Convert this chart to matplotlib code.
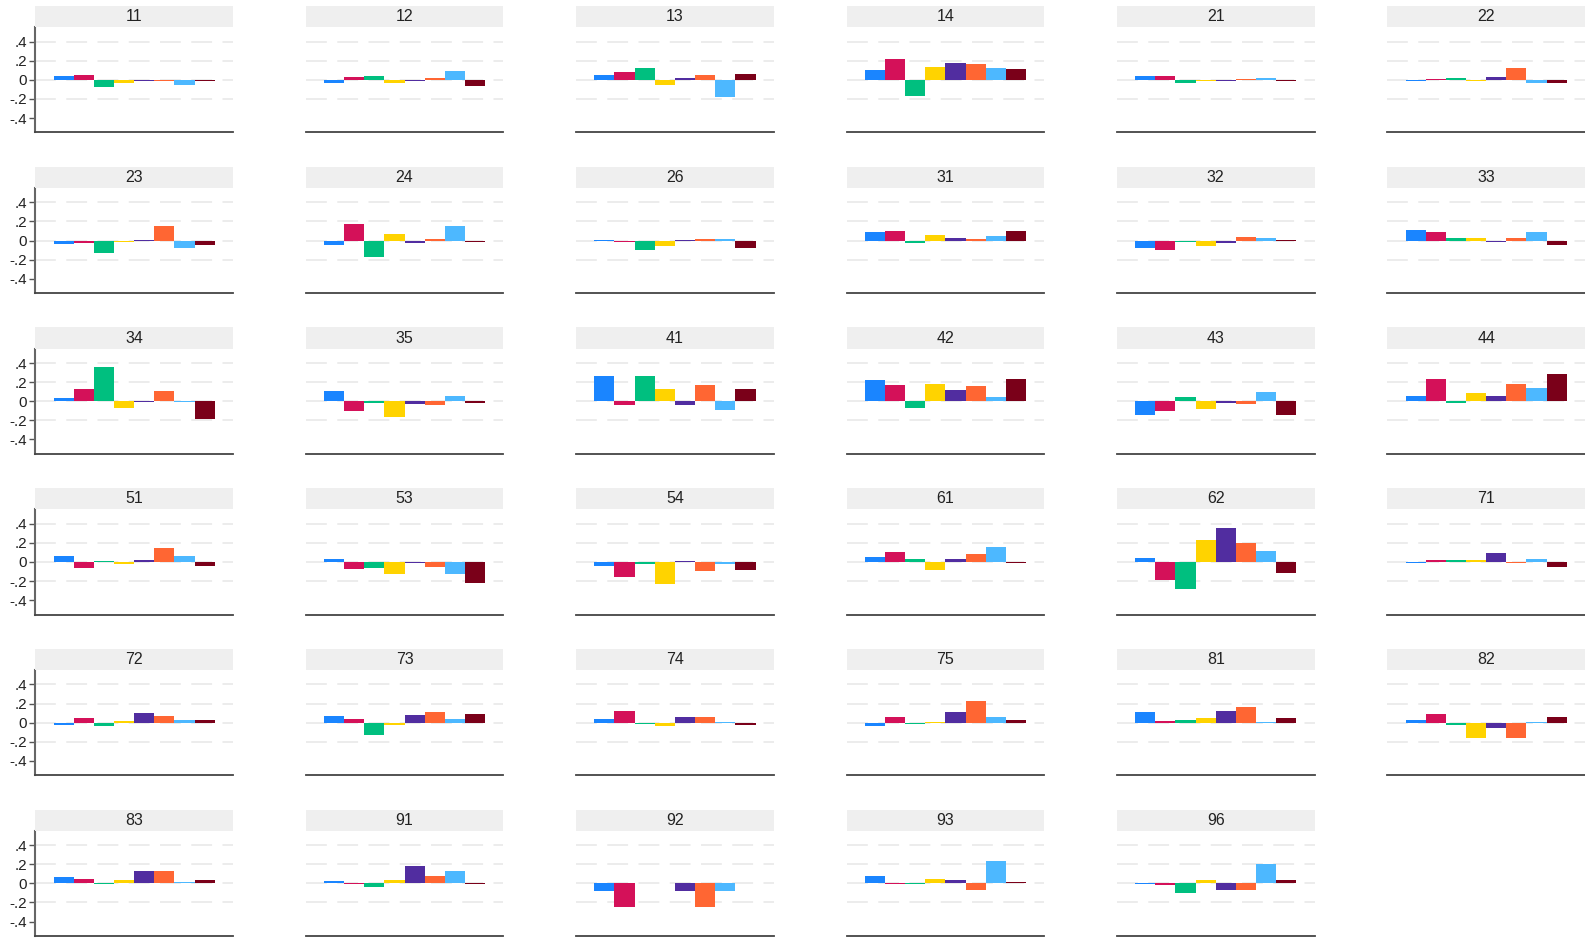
import matplotlib
matplotlib.use("Agg")
import matplotlib.pyplot as plt
import numpy as np

plt.rcParams['font.family'] = ['Liberation Sans', 'DejaVu Sans']
plt.rcParams['lines.scale_dashes'] = False

panels = ["11", "12", "13", "14", "21", "22",
          "23", "24", "26", "31", "32", "33",
          "34", "35", "41", "42", "43", "44",
          "51", "53", "54", "61", "62", "71",
          "72", "73", "74", "75", "81", "82",
          "83", "91", "92", "93", "96"]

grp1 = [0.045, -0.028, 0.049, 0.104, 0.045, -0.014, -0.031, -0.049, 0.010, 0.094, -0.073, 0.115,
        0.031, 0.104, 0.260, 0.219, -0.142, 0.052, 0.066, 0.035, -0.045, 0.056, 0.045, -0.014,
        -0.020, 0.070, 0.040, -0.030, 0.110, 0.030, 0.070, 0.020, -0.080, 0.080, -0.010]
grp2 = [0.055, 0.035, 0.087, 0.215, 0.045, 0.007, -0.024, 0.177, -0.014, 0.100, -0.100, 0.094,
        0.125, -0.104, -0.038, 0.167, -0.104, 0.229, -0.059, -0.069, -0.153, 0.108, -0.184, 0.024,
        0.050, 0.040, 0.120, 0.060, 0.020, 0.090, 0.050, -0.010, -0.250, -0.010, -0.020]
grp3 = [-0.073, 0.045, 0.120, -0.170, -0.028, 0.024, -0.135, -0.167, -0.104, -0.024, -0.010, 0.031,
        0.354, -0.017, 0.260, -0.073, 0.042, -0.015, 0.014, -0.059, -0.024, 0.035, -0.288, 0.024,
        -0.040, -0.130, -0.010, -0.010, 0.030, -0.020, -0.010, -0.040, 0.000, -0.010, -0.100]
grp4 = [-0.038, -0.028, -0.049, 0.139, -0.017, -0.017, -0.010, 0.073, -0.052, 0.059, -0.062, 0.024,
        -0.069, -0.163, 0.125, 0.177, -0.080, 0.083, -0.017, -0.128, -0.226, -0.080, 0.233, 0.024,
        0.020, -0.020, -0.040, 0.010, 0.050, -0.160, 0.030, 0.030, 0.000, 0.050, 0.030]
grp5 = [-0.017, -0.014, 0.017, 0.174, -0.010, 0.031, 0.010, -0.021, 0.010, 0.028, -0.024, -0.012,
        -0.012, -0.028, -0.038, 0.115, -0.020, 0.052, 0.024, -0.014, 0.014, 0.035, 0.358, 0.097,
        0.100, 0.080, 0.060, 0.110, 0.120, -0.060, 0.130, 0.180, -0.080, 0.040, -0.070]
grp6 = [-0.012, 0.024, 0.049, 0.163, 0.005, 0.128, 0.149, 0.017, 0.017, 0.012, 0.042, 0.031,
        0.104, -0.038, 0.167, 0.156, -0.028, 0.177, 0.149, -0.049, -0.090, 0.087, 0.200, -0.014,
        0.070, 0.110, 0.060, 0.230, 0.160, -0.160, 0.130, 0.080, -0.250, -0.070, -0.070]
grp7 = [-0.052, 0.097, -0.180, 0.128, 0.020, -0.028, -0.083, 0.156, 0.021, 0.049, 0.028, 0.094,
        -0.010, 0.052, -0.094, 0.042, 0.094, 0.135, 0.066, -0.128, -0.017, 0.160, 0.118, 0.035,
        0.030, 0.040, 0.010, 0.060, 0.010, 0.010, 0.010, 0.130, -0.080, 0.230, 0.200]
grp8 = [-0.012, -0.062, 0.062, 0.111, -0.015, -0.031, -0.042, -0.014, -0.073, 0.104, 0.010, -0.049,
        -0.184, -0.020, 0.125, 0.229, -0.142, 0.281, -0.038, -0.219, -0.080, -0.014, -0.111, -0.049,
        0.030, 0.090, -0.020, 0.030, 0.050, 0.060, 0.040, -0.010, 0.000, 0.010, 0.030]

series = [grp1, grp2, grp3, grp4, grp5, grp6, grp7, grp8]
colors = ["#1A85FF", "#D41159", "#00BF7F", "#FFD300",
          "#512DA0", "#FF6633", "#4DB8FF", "#7A0019"]

ytick_vals = [-0.4, -0.2, 0, 0.2, 0.4]
ytick_labels = ["-.4", "-.2", "0", ".2", ".4"]
grid_vals = [-0.2, 0, 0.2, 0.4]

W, H = 1585, 938
fig = plt.figure(figsize=(W / 100, H / 100), dpi=100)
fig.patch.set_facecolor("white")

ncol = 6
x0, pitch_x, pw = 35.4, 270.4, 197.5
strip_top0, ax_top0, ax_bot0, pitch_y = 6.1, 27.3, 132.4, 160.7

for i, lab in enumerate(panels):
    r, c = divmod(i, ncol)
    left = x0 + c * pitch_x
    top = ax_top0 + r * pitch_y
    bot = ax_bot0 + r * pitch_y
    stop = strip_top0 + r * pitch_y
    ax = fig.add_axes([left / W, 1 - bot / H, pw / W, (bot - top) / H])
    vals = [s[i] for s in series]
    for gv in grid_vals:
        ax.axhline(gv, color="#ebebeb", lw=1.3, dashes=(15, 7.5), zorder=0)
    ax.bar(np.arange(8), vals, width=1.0, color=colors, linewidth=0, zorder=2)
    ax.set_xlim(-1.4, 8.4)
    ax.set_ylim(-0.55, 0.55)
    ax.set_xticks([])
    for sp in ["top", "right"]:
        ax.spines[sp].set_visible(False)
    ax.spines["bottom"].set_color("#444444")
    ax.spines["bottom"].set_linewidth(1.3)
    if c == 0:
        ax.spines["left"].set_color("#666666")
        ax.spines["left"].set_linewidth(1.5)
        ax.set_yticks(ytick_vals)
        ax.set_yticklabels(ytick_labels, fontsize=11, color="#222222")
        ax.tick_params(axis="y", length=4, width=1, color="#555555", pad=2)
    else:
        ax.spines["left"].set_visible(False)
        ax.set_yticks([])
    # strip
    sax = fig.add_axes([left / W, 1 - top / H, pw / W, (top - stop) / H])
    sax.set_facecolor("#efefef")
    sax.set_xticks([])
    sax.set_yticks([])
    for sp in sax.spines.values():
        sp.set_visible(False)
    sax.text(0.5, 0.5, lab, ha="center", va="center", fontsize=11.5,
             color="#222222", transform=sax.transAxes)

fig.savefig("out.png", dpi=100, facecolor="white")
